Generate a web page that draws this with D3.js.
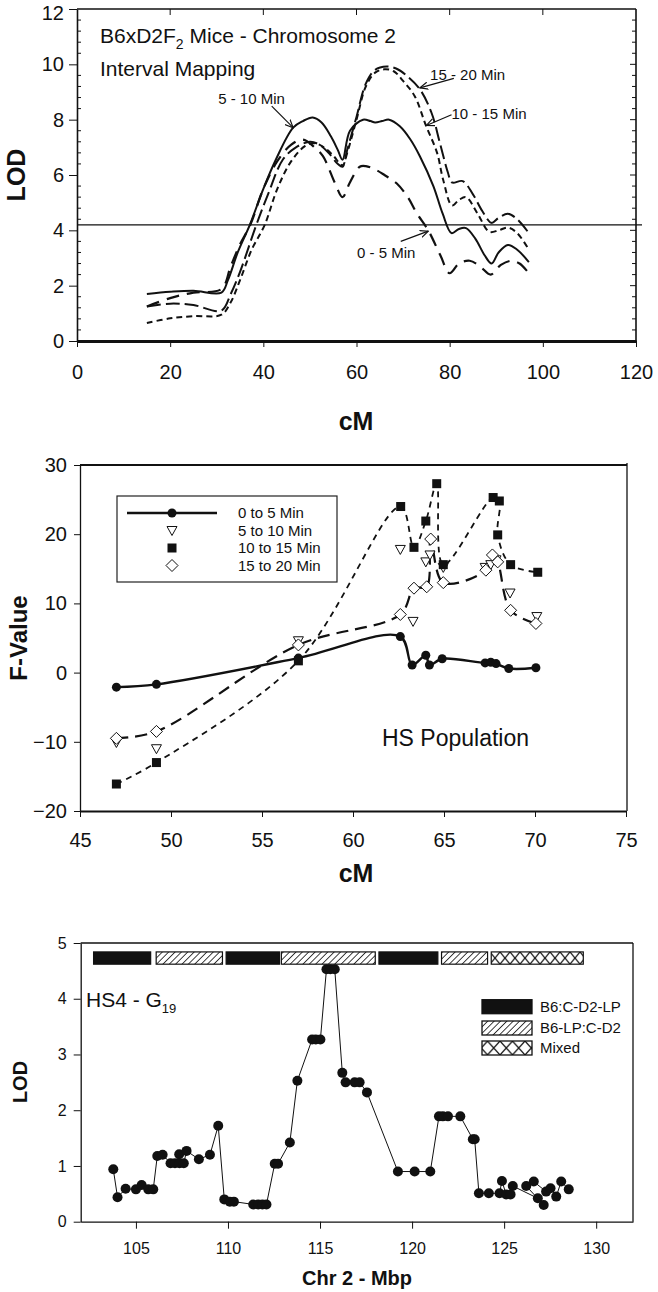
<!DOCTYPE html>
<html>
<head>
<meta charset="utf-8">
<script src="https://cdn.jsdelivr.net/npm/d3@7"></script>
<style>
body { margin: 0; background: #fff; }
svg text { font-family: "Liberation Sans", Arial, Helvetica, sans-serif; fill: #111; }
</style>
</head>
<body>
<svg id="fig" width="658" height="1292"></svg>
<script>
// ---------- panel 1 : B6xD2 F2 interval mapping ----------
var lodTicksX = [0, 20, 40, 60, 80, 100, 120];
var lodTicksY = [0, 2, 4, 6, 8, 10, 12];
var lodThreshold = 4.2;

var lod0to5 = [[15,1.25],[20,1.55],[25,1.75],[31,1.88],[33,2.7],[35,3.5],[37.2,4.2],[40,5.5],[43,6.5],[46,7.1],[48.5,7.28],[51,7.0],[52.8,6.68],[55.4,5.7],[57,5.2],[58.5,5.7],[60.7,6.3],[62,6.32],[64,6.2],[66,6.0],[68.6,5.7],[71,5.2],[73,4.6],[75.4,4.0],[78,3.1],[80,2.45],[82,2.8],[84.3,2.9],[86.5,2.7],[88.8,2.4],[91,2.75],[93.3,2.9],[95,2.8],[97,2.45]];
var lod5to10 = [[15,1.7],[20,1.78],[25,1.82],[31,1.75],[32.4,2.2],[34.5,3.2],[37.1,4.2],[40,5.5],[42.7,6.56],[46.4,7.71],[48.5,7.95],[50.6,8.08],[52.5,7.9],[54.5,7.4],[56,6.9],[57,6.55],[58.6,7.6],[61.4,8.0],[63,7.95],[64,7.9],[65.5,7.95],[67,8.0],[69.3,7.76],[71.5,7.3],[73.6,6.68],[76.5,5.6],[78.5,4.6],[80.4,3.9],[82,4.05],[83.5,4.08],[85.5,3.7],[87.5,3.1],[89,2.8],[90.5,3.2],[92.5,3.47],[94.5,3.3],[97,2.85]];
var lod10to15 = [[15,0.65],[20,0.82],[25,0.9],[31,0.95],[33,1.4],[35,2.2],[37.5,3.3],[40.3,4.2],[43,5.5],[46,6.5],[49,7.05],[51,7.15],[53,7.0],[55,6.7],[57,6.35],[58,6.8],[60,8.0],[62,9.2],[64,9.7],[66,9.82],[68,9.75],[70,9.4],[72.5,8.85],[74.9,7.79],[77.3,6.8],[78.6,5.83],[80.5,4.9],[82,5.1],[83.5,5.2],[86,4.6],[88.5,3.95],[90.5,4.0],[92.5,4.1],[94.5,3.9],[97,3.3]];
var lod15to20 = [[15,1.25],[20,1.35],[25,1.3],[31,1.1],[33,1.7],[35,2.5],[38.5,4.2],[41,5.3],[44.2,6.56],[47,7.0],[50,7.2],[52,7.1],[54,6.8],[56,6.4],[57,6.3],[58,6.9],[60,8.1],[62,9.3],[64,9.8],[66.5,9.92],[68.5,9.85],[70.7,9.6],[73.6,9.1],[76.1,8.25],[77.9,7.16],[79.6,6.1],[80.5,5.73],[82.8,5.78],[85,5.3],[87,4.7],[89,4.27],[90.5,4.45],[92.5,4.6],[94.5,4.4],[97,3.9]];

// label text anchor and arrow (from -> to), data coords
var lodNotes = ["5 - 10 Min", "15 - 20 Min", "10 - 15 Min", "0 - 5 Min"];
var lodNoteAt = [[30.3,8.55],[75.8,9.45],[80.4,8.03],[60.1,3.0]];
var lodArrowFrom = [[41.8,8.49],[80.9,9.49],[80.4,8.18],[69.5,3.6]];
var lodArrowTo = [[46.4,7.71],[73.6,9.15],[75.0,7.79],[75.4,3.97]];

// ---------- panel 2 : HS population F values ----------
var fTicksX = [45, 50, 55, 60, 65, 70, 75];
var fTicksY = [-20, -10, 0, 10, 20, 30];
var fSeries = ["0 to 5 Min", "5 to 10 Min", "10 to 15 Min", "15 to 20 Min"];
var f0to5 = [[47,-2.1],[49.2,-1.7],[57,2.1],[62.6,5.2],[63.25,1.1],[64,2.5],[64.2,1.1],[64.9,2.0],[67.26,1.4],[67.57,1.5],[67.86,1.3],[68.56,0.6],[70.05,0.7]];
var f5to10 = [[47,-10.1],[49.2,-11.0],[57,4.6],[62.6,17.8],[63.3,7.4],[64.0,16.0],[64.23,17.0],[64.96,15.2],[67.26,15.2],[67.57,15.6],[67.86,16.3],[68.63,11.5],[70.1,8.1]];
var f10to15 = [[47,-16.1],[49.2,-13.0],[57,1.7],[62.62,24.0],[63.35,18.1],[64.0,21.9],[64.6,27.3],[64.96,15.6],[67.7,25.3],[68.04,24.8],[67.95,19.9],[68.66,15.6],[70.15,14.5]];
var f15to20 = [[47,-9.5],[49.2,-8.5],[57,4.0],[62.6,8.4],[63.35,12.2],[64.05,12.4],[64.27,19.3],[64.96,13.0],[67.3,14.8],[67.66,17.0],[67.95,16.0],[68.66,9.0],[70.05,7.1]];

// ---------- panel 3 : HS4 - G19 ----------
var mbpTicksX = [105, 110, 115, 120, 125, 130];
var mbpTicksY = [0, 1, 2, 3, 4, 5];
var hsPoints = [[103.77,0.94],[104.0,0.44],[104.44,0.59],[105.0,0.58],[105.31,0.66],[105.67,0.58],[105.94,0.58],[106.16,1.18],[106.45,1.2],[106.88,1.05],[107.12,1.05],[107.35,1.21],[107.37,1.05],[107.6,1.05],[107.75,1.27],[108.42,1.12],[109.02,1.2],[109.47,1.72],[109.8,0.4],[110.1,0.36],[110.32,0.36],[111.37,0.31],[111.64,0.31],[111.87,0.31],[112.09,0.31],[112.54,1.04],[112.72,1.04],[113.36,1.42],[113.77,2.53],[114.57,3.27],[114.77,3.27],[115.02,3.27],[115.35,4.53],[115.56,4.53],[115.8,4.53],[116.21,2.67],[116.39,2.5],[116.88,2.5],[117.15,2.5],[117.55,2.32],[119.23,0.9],[120.14,0.9],[120.99,0.9],[121.46,1.89],[121.67,1.89],[121.95,1.89],[122.62,1.89],[123.3,1.48],[123.4,1.48],[123.63,0.51],[124.17,0.51],[124.75,0.51],[124.88,0.73],[125.11,0.49],[125.35,0.49],[125.47,0.64],[126.83,0.42],[127.15,0.3],[126.2,0.64],[126.61,0.72],[127.28,0.54],[127.52,0.6],[127.83,0.45],[128.1,0.72],[128.51,0.58]];
var hapStart = [102.7, 106.1, 109.9, 112.9, 118.2, 121.6, 124.3];
var hapEnd = [105.8, 109.7, 112.8, 118.0, 121.4, 124.1, 129.3];
var hapType = ["B6:C-D2-LP", "B6-LP:C-D2", "B6:C-D2-LP", "B6-LP:C-D2", "B6:C-D2-LP", "B6-LP:C-D2", "Mixed"];
var hapLegend = ["B6:C-D2-LP", "B6-LP:C-D2", "Mixed"];

var svg = d3.select("#fig");
var defs = svg.append("defs");

defs.append("marker").attr("id", "arr").attr("viewBox", "0 -5 10 10")
  .attr("refX", 9).attr("refY", 0).attr("markerWidth", 9).attr("markerHeight", 9)
  .attr("markerUnits", "userSpaceOnUse").attr("orient", "auto")
  .append("path").attr("d", "M0,-4L9,0L0,4").attr("fill", "none").attr("stroke", "#111").attr("stroke-width", 1.3);

var hatch = defs.append("pattern").attr("id", "hatch").attr("patternUnits", "userSpaceOnUse")
  .attr("width", 4.5).attr("height", 4.5).attr("patternTransform", "rotate(45)");
hatch.append("rect").attr("width", 4.5).attr("height", 4.5).attr("fill", "#fff");
hatch.append("line").attr("x1", 0).attr("y1", 0).attr("x2", 0).attr("y2", 4.5)
  .attr("stroke", "#111").attr("stroke-width", 1.6);

function crossPattern(id, y0, h, w) {
  var p = defs.append("pattern").attr("id", id).attr("patternUnits", "userSpaceOnUse")
    .attr("x", 0).attr("y", y0).attr("width", w).attr("height", h);
  p.append("rect").attr("width", w).attr("height", h).attr("fill", "#fff");
  p.append("path").attr("d", "M0,0L" + w + "," + h + "M" + w + ",0L0," + h)
    .attr("stroke", "#111").attr("stroke-width", 1.2).attr("fill", "none");
}

function tickText(g, size) {
  g.selectAll("text").style("font-size", size + "px").attr("fill", "#111");
  g.selectAll("line").attr("stroke", "#111");
}

// ================= PANEL 1 =================
var x1 = d3.scaleLinear().domain([0, 120]).range([77, 636]);
var y1 = d3.scaleLinear().domain([0, 12]).range([341, 9]);
var p1 = svg.append("g");

p1.append("line").attr("x1", x1(0)).attr("x2", x1(120)).attr("y1", y1(12)).attr("y2", y1(12))
  .attr("stroke", "#111").attr("stroke-width", 1.6);
p1.append("line").attr("x1", x1(120)).attr("x2", x1(120)).attr("y1", y1(12)).attr("y2", y1(0))
  .attr("stroke", "#111").attr("stroke-width", 1.6);

// minor ticks (inside, both sides)
var minorY = d3.range(0, 12.01, 0.4).filter(function (v) { return Math.abs(v / 2 - Math.round(v / 2)) > 0.01; });
p1.selectAll(".mnl").data(minorY).enter().append("line")
  .attr("x1", x1(0)).attr("x2", x1(0) + 4).attr("y1", function (d) { return y1(d); }).attr("y2", function (d) { return y1(d); })
  .attr("stroke", "#111");
p1.selectAll(".mnr").data(minorY).enter().append("line")
  .attr("x1", x1(120) - 4).attr("x2", x1(120)).attr("y1", function (d) { return y1(d); }).attr("y2", function (d) { return y1(d); })
  .attr("stroke", "#111");
p1.selectAll(".mjr").data(lodTicksY.slice(1, -1)).enter().append("line")
  .attr("x1", x1(120) - 6).attr("x2", x1(120)).attr("y1", function (d) { return y1(d); }).attr("y2", function (d) { return y1(d); })
  .attr("stroke", "#111");
p1.selectAll(".mjt").data(lodTicksX.slice(1, -1)).enter().append("line")
  .attr("x1", function (d) { return x1(d); }).attr("x2", function (d) { return x1(d); }).attr("y1", y1(12)).attr("y2", y1(12) + 6)
  .attr("stroke", "#111");

var ax1y = p1.append("g").attr("transform", "translate(" + x1(0) + ",0)")
  .call(d3.axisLeft(y1).tickValues(lodTicksY).tickSize(8).tickSizeOuter(0).tickPadding(5));
ax1y.select(".domain").attr("stroke", "#111").attr("stroke-width", 1.6);
tickText(ax1y, 20);
ax1y.selectAll("text").filter(function (d) { return d === 12; }).attr("dy", "0.5em");

var ax1x = p1.append("g").attr("transform", "translate(0," + y1(0) + ")")
  .call(d3.axisBottom(x1).tickValues(lodTicksX).tickSize(6).tickSizeOuter(0));
ax1x.select(".domain").attr("stroke", "#111").attr("stroke-width", 3);
tickText(ax1x, 20);
ax1x.selectAll("text").attr("y", 38).attr("dy", 0);

p1.append("line").attr("x1", x1(0)).attr("x2", x1(120) + 6)
  .attr("y1", y1(lodThreshold)).attr("y2", y1(lodThreshold)).attr("stroke", "#111").attr("stroke-width", 1.2);

var line1 = d3.line().x(function (d) { return x1(d[0]); }).y(function (d) { return y1(d[1]); })
  .curve(d3.curveCatmullRom.alpha(0.5));
var lodSets = [
  { data: lod0to5, dash: "13,8", w: 2.2 },
  { data: lod5to10, dash: null, w: 2 },
  { data: lod10to15, dash: "6,4", w: 2 },
  { data: lod15to20, dash: "14,5", w: 2 }
];
lodSets.forEach(function (s) {
  p1.append("path").datum(s.data).attr("d", line1).attr("fill", "none")
    .attr("stroke", "#111").attr("stroke-width", s.w).attr("stroke-dasharray", s.dash);
});

lodNotes.forEach(function (t, i) {
  p1.append("text").attr("x", x1(lodNoteAt[i][0])).attr("y", y1(lodNoteAt[i][1]))
    .style("font-size", "15px").text(t);
  p1.append("line").attr("x1", x1(lodArrowFrom[i][0])).attr("y1", y1(lodArrowFrom[i][1]))
    .attr("x2", x1(lodArrowTo[i][0])).attr("y2", y1(lodArrowTo[i][1]))
    .attr("stroke", "#111").attr("stroke-width", 1.2).attr("marker-end", "url(#arr)");
});

var ttl = p1.append("text").attr("x", 100).attr("y", 43).style("font-size", "21px");
ttl.append("tspan").text("B6xD2F");
ttl.append("tspan").attr("dy", 6).style("font-size", "14px").text("2");
ttl.append("tspan").attr("dy", -6).text(" Mice - Chromosome 2");
p1.append("text").attr("x", 100).attr("y", 76).style("font-size", "21px").text("Interval Mapping");

p1.append("text").attr("x", 356).attr("y", 430).attr("text-anchor", "middle")
  .style("font-size", "25px").style("font-weight", "bold").text("cM");
p1.append("text").attr("transform", "translate(25,175) rotate(-90)").attr("text-anchor", "middle")
  .style("font-size", "25px").style("font-weight", "bold").text("LOD");

// ================= PANEL 2 =================
var x2 = d3.scaleLinear().domain([45, 75]).range([80, 626]);
var y2 = d3.scaleLinear().domain([-20, 30]).range([811, 465]);
var p2 = svg.append("g");

p2.append("line").attr("x1", x2(45)).attr("x2", x2(75) + 1).attr("y1", y2(30)).attr("y2", y2(30))
  .attr("stroke", "#111").attr("stroke-width", 2.2);
p2.append("line").attr("x1", x2(75) + 1).attr("x2", x2(75) + 1).attr("y1", y2(30) - 2).attr("y2", y2(-20))
  .attr("stroke", "#111").attr("stroke-width", 1.3);

var ax2y = p2.append("g").attr("transform", "translate(" + x2(45) + ",0)")
  .call(d3.axisLeft(y2).tickValues(fTicksY).tickSize(6).tickSizeOuter(0).tickPadding(7));
ax2y.select(".domain").attr("stroke", "#111").attr("stroke-width", 1.3);
tickText(ax2y, 20);
var ax2x = p2.append("g").attr("transform", "translate(0," + y2(-20) + ")")
  .call(d3.axisBottom(x2).tickValues(fTicksX).tickSize(6).tickSizeOuter(0));
ax2x.select(".domain").attr("stroke", "#111").attr("stroke-width", 2);
tickText(ax2x, 20);
ax2x.selectAll("text").attr("y", 36).attr("dy", 0);

var line2 = d3.line().x(function (d) { return x2(d[0]); }).y(function (d) { return y2(d[1]); })
  .curve(d3.curveCatmullRom.alpha(0.5));
p2.append("path").datum(f15to20).attr("d", line2).attr("fill", "none")
  .attr("stroke", "#111").attr("stroke-width", 2.2).attr("stroke-dasharray", "12,7");
p2.append("path").datum(f10to15).attr("d", line2).attr("fill", "none")
  .attr("stroke", "#111").attr("stroke-width", 1.8).attr("stroke-dasharray", "6,5");
p2.append("path").datum(f0to5).attr("d", line2).attr("fill", "none")
  .attr("stroke", "#111").attr("stroke-width", 2.4);

var triPath = "M-5,-4L5,-4L0,5Z";
var diaPath = "M0,-6L6,0L0,6L-6,0Z";
function drawMarks(g, data, kind, sx, sy) {
  var sel = g.selectAll(null).data(data).enter();
  if (kind === "circle") {
    sel.append("circle").attr("cx", function (d) { return sx(d[0]); }).attr("cy", function (d) { return sy(d[1]); })
      .attr("r", 4.5).attr("fill", "#111");
  } else if (kind === "square") {
    sel.append("rect").attr("x", function (d) { return sx(d[0]) - 4.5; }).attr("y", function (d) { return sy(d[1]) - 4.5; })
      .attr("width", 9).attr("height", 9).attr("fill", "#111");
  } else {
    sel.append("path").attr("d", kind === "tri" ? triPath : diaPath)
      .attr("transform", function (d) { return "translate(" + sx(d[0]) + "," + sy(d[1]) + ")"; })
      .attr("fill", "#fff").attr("stroke", "#111").attr("stroke-width", 1);
  }
}
drawMarks(p2, f5to10, "tri", x2, y2);
drawMarks(p2, f15to20, "dia", x2, y2);
drawMarks(p2, f0to5, "circle", x2, y2);
drawMarks(p2, f10to15, "square", x2, y2);

// legend
var lg2 = p2.append("g");
lg2.append("rect").attr("x", 117).attr("y", 496).attr("width", 220).attr("height", 86)
  .attr("fill", "#fff").attr("stroke", "#222").attr("stroke-width", 1.2);
var lgY = [513, 530.5, 548, 565.5];
lg2.append("line").attr("x1", 127).attr("x2", 217).attr("y1", lgY[0]).attr("y2", lgY[0])
  .attr("stroke", "#111").attr("stroke-width", 2.4);
lg2.append("circle").attr("cx", 172).attr("cy", lgY[0]).attr("r", 4.5).attr("fill", "#111");
lg2.append("path").attr("d", triPath).attr("transform", "translate(172," + lgY[1] + ")")
  .attr("fill", "#fff").attr("stroke", "#111");
lg2.append("rect").attr("x", 167.5).attr("y", lgY[2] - 4.5).attr("width", 9).attr("height", 9).attr("fill", "#111");
lg2.append("path").attr("d", diaPath).attr("transform", "translate(172," + lgY[3] + ")")
  .attr("fill", "#fff").attr("stroke", "#111");
fSeries.forEach(function (t, i) {
  lg2.append("text").attr("x", 238).attr("y", lgY[i] + 5).style("font-size", "15px").text(t);
});

p2.append("text").attr("x", 382).attr("y", 746).style("font-size", "23px").text("HS Population");
p2.append("text").attr("x", 356).attr("y", 882).attr("text-anchor", "middle")
  .style("font-size", "25px").style("font-weight", "bold").text("cM");
p2.append("text").attr("transform", "translate(27,638) rotate(-90)").attr("text-anchor", "middle")
  .style("font-size", "24px").style("font-weight", "bold").text("F-Value");

// ================= PANEL 3 =================
var x3 = d3.scaleLinear().domain([102, 132]).range([80.7, 633]);
var y3 = d3.scaleLinear().domain([0, 5]).range([1221.7, 943]);
var p3 = svg.append("g");

p3.append("line").attr("x1", x3(102)).attr("x2", x3(132)).attr("y1", y3(5)).attr("y2", y3(5))
  .attr("stroke", "#111").attr("stroke-width", 1.3);
p3.append("line").attr("x1", x3(132)).attr("x2", x3(132)).attr("y1", y3(5)).attr("y2", y3(0))
  .attr("stroke", "#111").attr("stroke-width", 1.3);

var ax3y = p3.append("g").attr("transform", "translate(" + x3(102) + ",0)")
  .call(d3.axisLeft(y3).tickValues(mbpTicksY).tickFormat(d3.format("d")).tickSize(7).tickSizeOuter(0).tickPadding(7));
ax3y.select(".domain").attr("stroke", "#111").attr("stroke-width", 1.3);
tickText(ax3y, 16);
var ax3x = p3.append("g").attr("transform", "translate(0," + y3(0) + ")")
  .call(d3.axisBottom(x3).tickValues(mbpTicksX).tickSize(7).tickSizeOuter(0));
ax3x.select(".domain").attr("stroke", "#111").attr("stroke-width", 1.3);
tickText(ax3x, 16);
ax3x.selectAll("text").attr("y", 32).attr("dy", 0);

// haplotype bars
var barTop = y3(4.84), barH = y3(4.62) - y3(4.84);
crossPattern("mixed", barTop, barH, 10);
function hapFill(t) { return t === "Mixed" ? "url(#mixed)" : (t === "B6-LP:C-D2" ? "url(#hatch)" : "#111"); }
p3.selectAll(".hap").data(hapType).enter().append("rect")
  .attr("x", function (d, i) { return x3(hapStart[i]); })
  .attr("width", function (d, i) { return x3(hapEnd[i]) - x3(hapStart[i]); })
  .attr("y", barTop).attr("height", barH)
  .attr("fill", function (d) { return hapFill(d); })
  .attr("stroke", "#111").attr("stroke-width", 1.2);

var line3 = d3.line().x(function (d) { return x3(d[0]); }).y(function (d) { return y3(d[1]); });
p3.append("path").datum(hsPoints).attr("d", line3).attr("fill", "none").attr("stroke", "#111").attr("stroke-width", 1);
p3.selectAll(".pt").data(hsPoints).enter().append("circle")
  .attr("cx", function (d) { return x3(d[0]); }).attr("cy", function (d) { return y3(d[1]); })
  .attr("r", 5).attr("fill", "#111");

// legend
var lg3Y = [999.7, 1021, 1041];
crossPattern("mixedLg", lg3Y[2], 14, 12.5);
hapLegend.forEach(function (t, i) {
  var f = t === "Mixed" ? "url(#mixedLg)" : hapFill(t);
  p3.append("rect").attr("x", 482).attr("y", lg3Y[i]).attr("width", 50).attr("height", 14)
    .attr("fill", f).attr("stroke", "#111").attr("stroke-width", 1.3);
  p3.append("text").attr("x", 540).attr("y", lg3Y[i] + 12).style("font-size", "15px").text(t);
});

var hsl = p3.append("text").attr("x", 86).attr("y", 1007).style("font-size", "21px");
hsl.append("tspan").text("HS4 - G");
hsl.append("tspan").attr("dx", 0).attr("dy", 6).style("font-size", "13px").text("19");

p3.append("text").attr("x", 357).attr("y", 1285).attr("text-anchor", "middle")
  .style("font-size", "20px").style("font-weight", "bold").text("Chr 2 - Mbp");
p3.append("text").attr("transform", "translate(27,1082) rotate(-90)").attr("text-anchor", "middle")
  .style("font-size", "20px").style("font-weight", "bold").text("LOD");
</script>
</body>
</html>
